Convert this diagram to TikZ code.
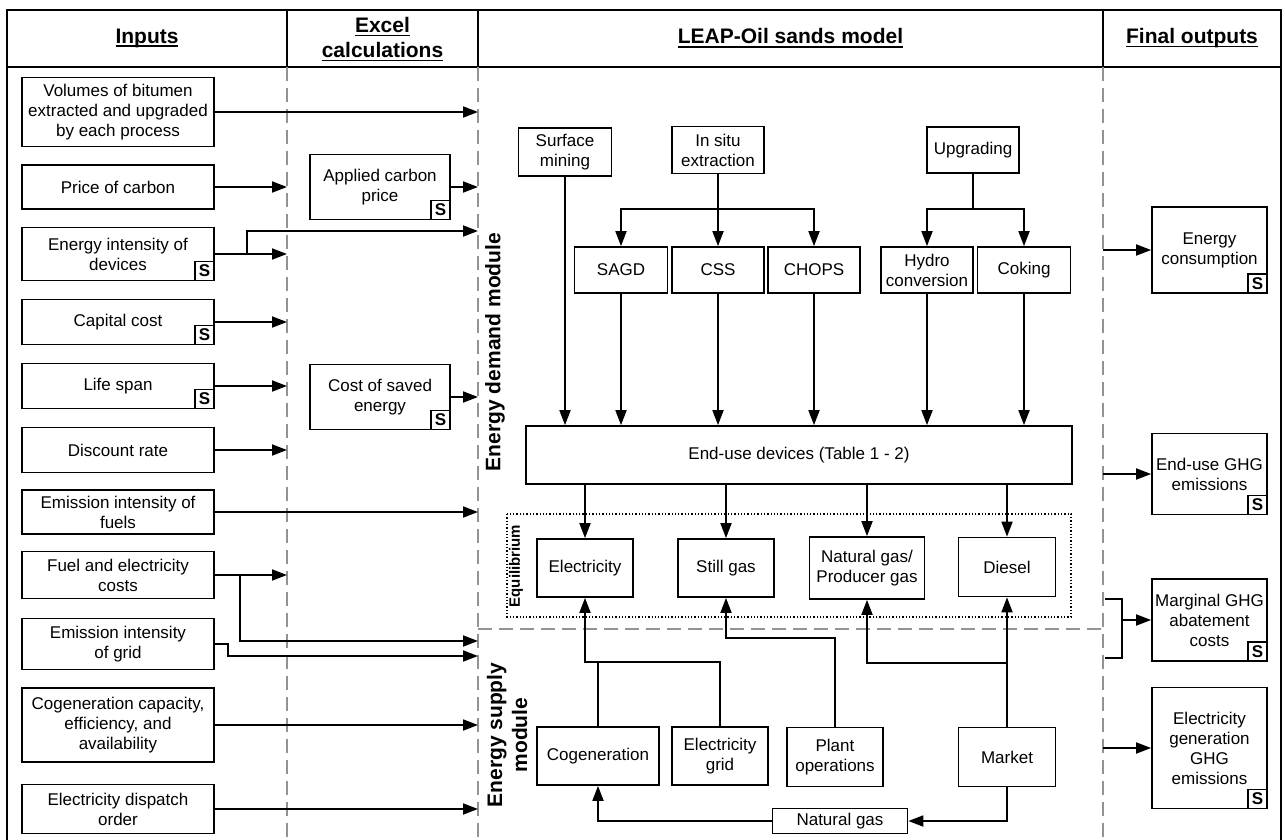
\documentclass[tikz,border=0pt]{standalone}
\usepackage{fontspec}
\setmainfont{Liberation Sans}
\usetikzlibrary{arrows.meta}
\newcommand{\hul}[1]{\setbox0=\hbox{#1}\rlap{\rule[-4pt]{\wd0}{1.6pt}}\box0}

\tikzset{
  box/.style={draw, line width=1.7pt, align=center, inner sep=2pt, font=\fontsize{17}{20}\selectfont},
  inbox/.style={box, minimum width=192pt},
  outbox/.style={box, minimum width=115pt},
  sbox/.style={draw, line width=1.7pt, minimum size=19pt, inner sep=0pt, font=\fontsize{17}{17}\selectfont\bfseries},
  arr/.style={line width=1.8pt, -{Triangle[length=15pt,width=11pt]}},
  conn/.style={line width=1.8pt},
  lane/.style={gray!85, line width=1.3pt, dash pattern=on 14pt off 7pt},
  hdr/.style={font=\fontsize{21}{25}\selectfont\bfseries, align=center},
  vlab/.style={font=\fontsize{21}{25}\selectfont\bfseries, align=center, rotate=90},
}

\begin{document}
\begin{tikzpicture}[x=1pt,y=-1pt]
\useasboundingbox (0,0) rectangle (1285,840);

% frame and headers
\draw[line width=1.7pt] (7,840) -- (7,10) -- (1281,10) -- (1281,840);
\draw[line width=1.7pt] (7,67) -- (1281,67);
\draw[line width=1.7pt] (287,10) -- (287,67);
\draw[line width=1.7pt] (478,10) -- (478,67);
\draw[line width=1.7pt] (1103,10) -- (1103,67);
\node[hdr] (hin) at (147,38) {\hul{Inputs}};
\node[hdr] (hxl) at (382.5,39) {\hul{Excel}\\\hul{calculations}};
\node[hdr] (hleap) at (790.5,38) {\hul{LEAP-Oil sands model}};
\node[hdr] (hout) at (1192,38) {\hul{Final outputs}};

% lanes
\draw[lane] (287,67) -- (287,840);
\draw[lane] (478,67) -- (478,840);
\draw[lane] (1103,67) -- (1103,840);
\draw[lane] (478,629) -- (1103,629);
\coordinate (cA) at (287,0);
\coordinate (cB) at (478,0);
\coordinate (cC) at (1103,0);

% inputs
\node[inbox, minimum height=69pt] (vol) at (118,112) {Volumes of bitumen\\extracted and upgraded\\by each process};
\node[inbox, minimum height=44pt] (price) at (118,187) {Price of carbon};
\node[inbox, minimum height=53pt] (eint) at (118,254) {Energy intensity of\\devices};
\node[inbox, minimum height=45pt] (cap) at (118,322) {Capital cost};
\node[inbox, minimum height=45pt] (life) at (118,386) {Life span};
\node[inbox, minimum height=45pt] (disc) at (118,450) {Discount rate};
\node[inbox, minimum height=44pt] (emf) at (118,512) {Emission intensity of\\fuels};
\node[inbox, minimum height=47pt] (fuel) at (118,575) {Fuel and electricity\\costs};
\node[inbox, minimum height=51pt] (emgrid) at (118,644) {Emission intensity\\of grid};
\node[inbox, minimum height=74pt] (cogin) at (118,725) {Cogeneration capacity,\\efficiency, and\\availability};
\node[inbox, minimum height=49pt] (disp) at (118,809) {Electricity dispatch\\order};

% excel
\node[box, minimum width=140pt, minimum height=65pt] (acp) at (380,187) {Applied carbon\\price};
\node[box, minimum width=140pt, minimum height=65pt] (cse) at (380,397) {Cost of saved\\energy};

% outputs
\node[outbox, minimum height=86pt] (econ) at (1209.5,250) {Energy\\consumption};
\node[outbox, minimum height=81pt] (eghg) at (1209.5,474) {End-use GHG\\emissions};
\node[outbox, minimum height=82pt] (mac) at (1209.5,620) {Marginal GHG\\abatement\\costs};
\node[outbox, minimum height=121pt] (egen) at (1209.5,748) {Electricity\\generation\\GHG\\emissions};

\foreach \b in {eint,cap,life,acp,cse,econ,eghg,mac,egen}
  \node[sbox, anchor=south east] (s-\b) at (\b.south east) {S};

% module labels
\node[vlab] (ldem) at (495,352) {Energy demand module};
\node[vlab] (lsup) at (507,735) {Energy supply\\module};

% demand module
\node[box, minimum width=93pt, minimum height=48pt] (surf) at (565,152) {Surface\\mining};
\node[box, minimum width=92pt, minimum height=47pt] (insitu) at (718,150) {In situ\\extraction};
\node[box, minimum width=92pt, minimum height=46pt] (upg) at (973,150) {Upgrading};
\node[box, minimum width=93pt, minimum height=46pt] (sagd) at (621,270) {SAGD};
\node[box, minimum width=92pt, minimum height=46pt] (css) at (718,270) {CSS};
\node[box, minimum width=92pt, minimum height=46pt] (chops) at (814,270) {CHOPS};
\node[box, minimum width=92pt, minimum height=46pt] (hydro) at (927,270) {Hydro\\conversion};
\node[box, minimum width=93pt, minimum height=46pt] (coking) at (1024,270) {Coking};
\node[box, minimum width=546pt, minimum height=58pt] (eu) at (799,455) {End-use devices (Table 1 - 2)};

% equilibrium
\draw[line width=1.3pt, dash pattern=on 1.3pt off 2pt] (507,514) rectangle (1071,617);
\node[rotate=90, font=\fontsize{15}{15}\selectfont\bfseries] (leq) at (516,566) {Equilibrium};
\node[box, minimum width=96pt, minimum height=58pt] (elec) at (585,568) {Electricity};
\node[box, minimum width=96pt, minimum height=58pt] (still) at (726,568) {Still gas};
\node[box, minimum width=115pt, minimum height=62pt] (ngpg) at (867,568) {Natural gas/\\Producer gas};
\node[box, minimum width=97pt, minimum height=59pt] (diesel) at (1007,567) {Diesel};

% supply module
\node[box, minimum width=122pt, minimum height=58pt] (cog) at (598,756) {Cogeneration};
\node[box, minimum width=96pt, minimum height=58pt] (elgrid) at (720,756) {Electricity\\grid};
\node[box, minimum width=96pt, minimum height=59pt] (plant) at (835,757) {Plant\\operations};
\node[box, minimum width=97pt, minimum height=59pt] (market) at (1007,757) {Market};
\node[box, minimum width=135pt, minimum height=25pt, inner sep=0pt] (ngas) at (840,821) {Natural gas};

% input arrows
\draw[arr] (vol.east) -- (vol.east -| cB);
\draw[arr] (price.east) -- (price.east -| cA);
\draw[arr] (eint.east) -- (eint.east -| cA);
\coordinate (eintup) at (247,231);
\draw[arr] (eint.east) -| (eintup) -- (eintup -| cB);
\draw[arr] (cap.east) -- (cap.east -| cA);
\draw[arr] (life.east) -- (life.east -| cA);
\draw[arr] (disc.east) -- (disc.east -| cA);
\draw[arr] (emf.east) -- (emf.east -| cB);
\draw[arr] (fuel.east) -- (fuel.east -| cA);
\coordinate (fueldn) at (240,641);
\draw[arr] (fuel.east) -| (fueldn) -- (fueldn -| cB);
\coordinate (griddn) at (228,656);
\draw[arr] (emgrid.east) -| (griddn) -- (griddn -| cB);
\draw[arr] (cogin.east) -- (cogin.east -| cB);
\draw[arr] (disp.east) -- (disp.east -| cB);
\draw[arr] (acp.east) -- (acp.east -| cB);
\draw[arr] (cse.east) -- (cse.east -| cB);

% process tree
\coordinate (isb) at (718,209);
\coordinate (upb) at (973,209);
\draw[arr] (insitu.south) -- (css.north);
\draw[arr] (isb) -| (sagd.north);
\draw[arr] (isb) -| (chops.north);
\draw[conn] (upg.south) -- (upb);
\draw[arr] (upb) -| (hydro.north);
\draw[arr] (upb) -| (coking.north);
\foreach \p in {surf,sagd,css,chops,hydro,coking}
  \draw[arr] (\p.south) -- (\p.south |- eu.north);
\foreach \f in {elec,still,ngpg,diesel}
  \draw[arr] (\f.north |- eu.south) -- (\f.north);

% supply arrows
\coordinate (elj) at (585,662);
\draw[arr] (elgrid.north) |- (elj) -- (elec.south);
\draw[conn] (cog.north) -- (cog.north |- elj);
\coordinate (stj) at (726,638);
\draw[arr] (plant.north) |- (stj) -- (still.south);
\draw[arr] (market.north) -- (diesel.south);
\coordinate (mkj) at (1007,663);
\draw[arr] (mkj) -| (ngpg.south);
\draw[arr] (market.south) |- (ngas.east);
\draw[arr] (ngas.west) -| (cog.south);

% output arrows
\draw[arr] (econ.west -| cC) -- (econ.west);
\draw[arr] (eghg.west -| cC) -- (eghg.west);
\coordinate (macT) at (1105,599);
\coordinate (macM) at (1122,620);
\coordinate (macB) at (1105,658);
\draw[conn] (macT) -| (macM) |- (macB);
\draw[arr] (macM) -- (mac.west);
\draw[arr] (egen.west -| cC) -- (egen.west);
\end{tikzpicture}
\end{document}
